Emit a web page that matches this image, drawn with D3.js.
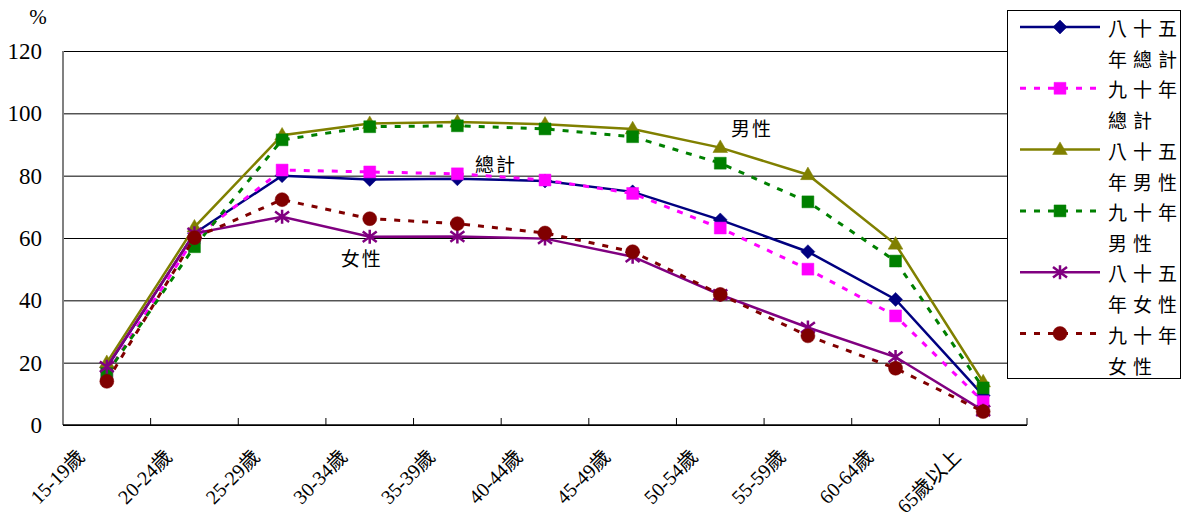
<!DOCTYPE html>
<html><head><meta charset="utf-8">
<script src="https://cdn.jsdelivr.net/npm/d3@7"></script>
<style>body{margin:0;background:#fff;} svg{display:block;}</style>
</head><body>
<svg id="c" width="1186" height="522"></svg>
<script>
const categories = ["15-19歲","20-24歲","25-29歲","30-34歲","35-39歲","40-44歲","45-49歲","50-54歲","55-59歲","60-64歲","65歲以上"];
const yTicks = [0,20,40,60,80,100,120];
const total85  = [18.5, 61.5, 80.0, 78.8, 79.0, 78.3, 74.8, 65.8, 55.6, 40.3, 9.5];
const total90  = [16.5, 60.0, 81.8, 81.2, 80.6, 78.6, 74.3, 63.2, 50.0, 35.0, 7.5];
const male85   = [20.0, 63.5, 93.0, 96.7, 97.2, 96.5, 95.0, 89.0, 80.3, 58.0, 13.8];
const male90   = [16.5, 57.2, 91.5, 95.7, 96.0, 95.0, 92.5, 84.0, 71.6, 52.6, 11.9];
const female85 = [18.7, 61.5, 66.8, 60.4, 60.5, 59.8, 54.0, 41.8, 31.3, 21.8, 4.6];
const female90 = [14.0, 60.1, 72.3, 66.2, 64.6, 61.6, 55.6, 41.9, 28.6, 18.2, 4.3];
const seriesNames = [["八十五","年總計"],["九十年","總計"],["八十五","年男性"],["九十年","男性"],["八十五","年女性"],["九十年","女性"]];
const annotations = [{t:"男性", c:"55-59歲", v:92.8, dx:-77},{t:"總計", c:"40-44歲", v:81.3, dx:-70},{t:"女性", c:"30-34歲", v:51.1, dx:-29}];

const series = [
  {name: seriesNames[0], values: total85,  color:"#000080", dash:null, sym:"diamond"},
  {name: seriesNames[1], values: total90,  color:"#FF00FF", dash:"6,8", sym:"square"},
  {name: seriesNames[2], values: male85,   color:"#808000", dash:null, sym:"triangle"},
  {name: seriesNames[3], values: male90,   color:"#008000", dash:"6,8", sym:"square"},
  {name: seriesNames[4], values: female85, color:"#800080", dash:null, sym:"asterisk"},
  {name: seriesNames[5], values: female90, color:"#800000", dash:"6,8", sym:"circle"}
];

const svg = d3.select("#c");
const L = 63, R = 1027, T = 51, B = 425;
const x = d3.scaleBand().domain(categories).range([L, R]);
const y = d3.scaleLinear().domain([0,120]).range([B, T]);
const numFont = "'Liberation Serif','Noto Sans CJK TC',serif";
const cjkFont = "'Noto Sans CJK TC','Liberation Serif',serif";

// gridlines + y axis
const yAxis = d3.axisLeft(y).tickValues(yTicks).tickSize(-(R - L)).tickFormat(d3.format("d"));
const gy = svg.append("g").attr("transform", `translate(${L},0)`).call(yAxis);
gy.select(".domain").remove();
gy.selectAll(".tick line").attr("stroke", "#000").attr("stroke-width", 1);
gy.selectAll(".tick text").attr("x", -21).attr("font-family", numFont).attr("font-size", 23).attr("fill", "#000");
svg.append("line").attr("x1", L).attr("x2", L).attr("y1", T).attr("y2", B).attr("stroke", "#808080").attr("stroke-width", 2);

// x axis
svg.append("line").attr("x1", L).attr("x2", R).attr("y1", B).attr("y2", B).attr("stroke", "#000").attr("stroke-width", 1.5);
const bounds = categories.map(c => x(c)).concat([R]);
svg.append("g").selectAll("line").data(bounds.slice(1)).join("line")
  .attr("x1", d => d).attr("x2", d => d).attr("y1", B).attr("y2", B - 7)
  .attr("stroke", "#000").attr("stroke-width", 1);
svg.append("g").selectAll("text").data(categories).join("text")
  .attr("transform", d => `translate(${x(d) + x.bandwidth()/2 - 21},${B + 33}) rotate(-45)`)
  .attr("text-anchor", "end").attr("font-family", numFont).attr("font-size", 20).attr("fill", "#000")
  .text(d => d);

svg.append("text").attr("x", 38).attr("y", 24).attr("text-anchor", "middle").attr("font-family", numFont).attr("font-size", 21).text("%");

function symbolPath(type, s) {
  if (type === "diamond") return `M0,${-s}L${s},0L0,${s}L${-s},0Z`;
  if (type === "square") return `M${-s*0.85},${-s*0.85}H${s*0.85}V${s*0.85}H${-s*0.85}Z`;
  if (type === "triangle") return `M0,${-s*1.1}L${s*1.05},${s*0.7}L${-s*1.05},${s*0.7}Z`;
  if (type === "circle") return d3.symbol(d3.symbolCircle, Math.PI * s * s)();
  if (type === "asterisk") return `M${-s},${-s*0.75}L${s},${s*0.75}M${s},${-s*0.75}L${-s},${s*0.75}M0,${-s}V${s}`;
}
function drawMarker(g, type, color, cx, cy) {
  const p = g.append("path").attr("d", symbolPath(type, 7)).attr("transform", `translate(${cx},${cy})`);
  if (type === "asterisk") p.attr("fill", "none").attr("stroke", color).attr("stroke-width", 2.5);
  else p.attr("fill", color).attr("stroke", color).attr("stroke-width", 0.5);
}

const line = d3.line().x((d,i) => x(categories[i]) + x.bandwidth()/2).y(d => y(d));
series.forEach(s => {
  const g = svg.append("g");
  g.append("path").attr("d", line(s.values)).attr("fill", "none").attr("stroke", s.color)
    .attr("stroke-width", s.dash ? 3 : 2.5).attr("stroke-dasharray", s.dash);
  s.values.forEach((v,i) => drawMarker(g, s.sym, s.color, x(categories[i]) + x.bandwidth()/2, y(v)));
});

annotations.forEach(a => {
  svg.append("text").attr("x", x(a.c) + x.bandwidth()/2 + a.dx).attr("y", y(a.v))
    .attr("font-family", cjkFont).attr("font-size", 19).attr("letter-spacing", 2).attr("fill", "#000").text(a.t);
});

// legend
const lg = svg.append("g");
lg.append("rect").attr("x", 1007.5).attr("y", 10.5).attr("width", 173).attr("height", 368).attr("fill", "#fff").attr("stroke", "#000").attr("stroke-width", 1);
series.forEach((s, i) => {
  const ly = 27 + i * 61.3;
  lg.append("line").attr("x1", 1020).attr("x2", 1100).attr("y1", ly).attr("y2", ly)
    .attr("stroke", s.color).attr("stroke-width", s.dash ? 3 : 2.5).attr("stroke-dasharray", s.dash);
  drawMarker(lg, s.sym, s.color, 1060, ly);
  s.name.forEach((t, j) => {
    lg.append("text").attr("x", 1108).attr("y", ly + 9 + j * 31).attr("font-family", cjkFont)
      .attr("font-size", 19).attr("letter-spacing", 6).attr("fill", "#000").text(t);
  });
});
</script>
</body></html>
